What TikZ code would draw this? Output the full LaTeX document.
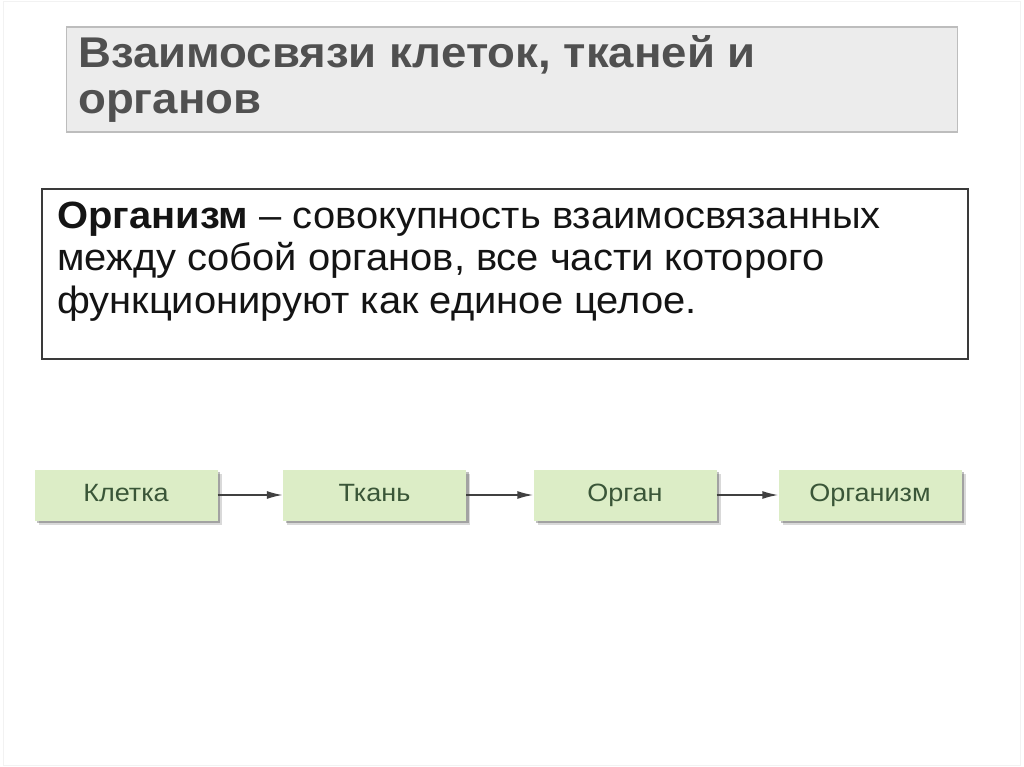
\documentclass[tikz,border=0pt]{standalone}
\usepackage{fontspec}
\setmainfont{Liberation Sans}
\newfontfamily\titlefont[FakeStretch=1.06]{Liberation Sans}
\newfontfamily\deffont[FakeStretch=1.05]{Liberation Sans}
\newfontfamily\labelfont[FakeStretch=1.08]{Liberation Sans}
\usetikzlibrary{arrows.meta,shadows}
\definecolor{titlefill}{HTML}{ECECEC}
\definecolor{titleborder}{HTML}{BDBDBD}
\definecolor{titletext}{HTML}{505050}
\definecolor{defborder}{HTML}{3A3A3A}
\definecolor{deftext}{HTML}{141414}
\definecolor{boxfill}{HTML}{DCEDC6}
\definecolor{boxtext}{HTML}{3A5638}
\definecolor{arrowcol}{HTML}{404040}
\definecolor{framecol}{HTML}{F2F2F2}
\begin{document}
\begin{tikzpicture}[x=1pt,y=-1pt,
  greenbox/.style={fill=boxfill, minimum width=183pt, minimum height=51pt, inner sep=0pt,
    text height=18pt, text depth=5pt,
    font=\labelfont\fontsize{25}{28}\selectfont, text=boxtext,
    general shadow={shadow xshift=4pt, shadow yshift=-4pt, fill=black, opacity=0.15},
    general shadow={shadow xshift=2.5pt, shadow yshift=-2.5pt, fill=black, opacity=0.25}},
  link/.style={draw=arrowcol, line width=1.6pt, -{Latex[length=16pt,width=8pt]}}]
\useasboundingbox (0,0) rectangle (1024,767);
\fill[white] (0,0) rectangle (1024,767);
\draw[framecol, line width=1pt] (3,2) rectangle (1020,765);
% title
\node[draw=titleborder, fill=titlefill, line width=1.2pt, minimum width=891pt, minimum height=105pt, inner sep=0pt] (titlebox) at (512,79.5) {};
\node[anchor=base west, align=left, inner sep=0pt, text=titletext, font=\titlefont\bfseries\fontsize{43}{46}\selectfont] (title) at (78,114) {Взаимосвязи клеток, тканей и\\органов};
% definition
\node[draw=defborder, line width=1.3pt, minimum width=926pt, minimum height=170pt, inner sep=0pt] (defbox) at (505,274) {};
\node[anchor=base west, align=left, inner sep=0pt, text=deftext, font=\deffont\fontsize{38}{42.5}\selectfont] (deftext) at (57,313) {\textbf{Организм} – совокупность взаимосвязанных\\между собой органов, все части которого\\функционируют как единое целое.};
% chain
\node[greenbox] (b1) at (126,495) {Клетка};
\node[greenbox] (b2) at (374.5,495) {Ткань};
\node[greenbox] (b3) at (625,495) {Орган};
\node[greenbox] (b4) at (870,495) {Организм};
\draw[link] (b1.east) -- (b2.west);
\draw[link] (b2.east) -- (b3.west);
\draw[link] (b3.east) -- (b4.west);
\end{tikzpicture}
\end{document}
